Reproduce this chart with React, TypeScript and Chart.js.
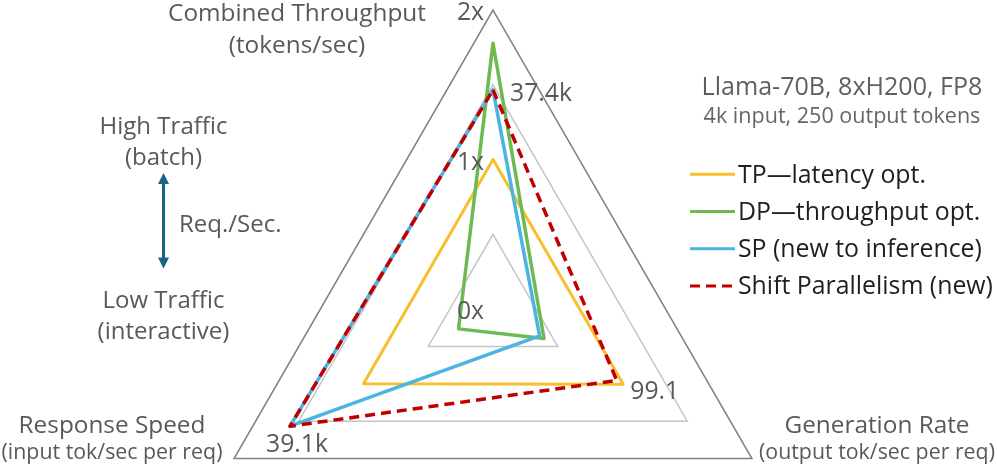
import React, { useEffect, useRef } from 'react';
import { Chart, registerables } from 'chart.js';

Chart.register(...registerables);

// ---- data (each value = fraction of that axis' maximum; throughput 2x = 1.0) ----
const axisNames = ['Combined Throughput', 'Generation Rate', 'Response Speed'];
const axisUnits = ['(tokens/sec)', '(output tok/sec per req)', '(input tok/sec per req)'];
const seriesNames = ['TP—latency opt.', 'DP—throughput opt.', 'SP (new to inference)', 'Shift Parallelism (new)'];
const tpValues = [0.5, 0.503, 0.5];
const dpValues = [0.889, 0.197, 0.133];
const spValues = [0.733, 0.18, 0.784];
const shiftValues = [0.733, 0.478, 0.784];
const throughputTickValues = [0, 0.5, 1];
const throughputTickLabels = ['0x', '1x', '2x'];
const calloutTexts = ['37.4k', '99.1', '39.1k'];
const calloutSeries = [3, 0, 2];
const headerLines = ['Llama-70B, 8xH200, FP8', '4k input, 250 output tokens'];
const trafficLabels = ['High Traffic', '(batch)', 'Req./Sec.', 'Low Traffic', '(interactive)'];

const seriesColors = ['#F7BF2E', '#6DBA55', '#4BB4E1', '#C00000'];
const seriesWidths = [3, 3.5, 3.5, 3.5];
const seriesDash = [[], [], [], [10, 6]];
const seriesOrder = [4, 3, 2, 1];

const FONT = '"Open Sans", sans-serif';
const GRAY = '#595959';

const overlay = {
  id: 'overlay',
  afterDatasetsDraw(chart: any) {
    const ctx = chart.ctx as CanvasRenderingContext2D;
    const r = chart.scales.r;
    ctx.save();
    const fit = (t: string, w: number) => {
      ctx.font = `20px ${FONT}`;
      return (20 * w) / ctx.measureText(t).width;
    };
    const text = (t: string, x: number, y: number, size: number, color: string, align: CanvasTextAlign = 'center') => {
      ctx.font = `${size}px ${FONT}`;
      ctx.fillStyle = color;
      ctx.textAlign = align;
      ctx.textBaseline = 'alphabetic';
      ctx.fillText(t, x, y);
    };

    const titleSize = fit(axisNames[0], 258);
    const unitSize = fit(axisUnits[2], 221);
    const trafficSize = fit(trafficLabels[0], 128);
    const numSize = fit(calloutTexts[0], 62);
    const h1Size = fit(headerLines[0], 281);
    const h2Size = fit(headerLines[1], 277);
    const legendSize = fit(seriesNames[3], 255);

    // throughput tick labels along the top axis
    throughputTickLabels.forEach((t, i) => {
      const p = r.getPointPositionForValue(0, throughputTickValues[i]);
      text(t, p.x - 9, p.y + 10, numSize, GRAY, 'right');
    });

    // callouts at data points
    const dsets = chart.data.datasets;
    const c0 = r.getPointPositionForValue(0, dsets[calloutSeries[0]].data[0]);
    text(calloutTexts[0], c0.x + 17, c0.y + 11, numSize, GRAY, 'left');
    const c1 = r.getPointPositionForValue(1, dsets[calloutSeries[1]].data[1]);
    text(calloutTexts[1], c1.x + 7, c1.y + 15, numSize, GRAY, 'left');
    const c2 = r.getPointPositionForValue(2, dsets[calloutSeries[2]].data[2]);
    text(calloutTexts[2], c2.x + 7, c2.y + 26, numSize, GRAY, 'center');

    // axis titles
    text(axisNames[0], 297, 21, titleSize, GRAY);
    text(axisUnits[0], 297, 53, titleSize, GRAY);
    text(axisNames[1], 877, 433, titleSize, GRAY);
    text(axisUnits[1], 877, 459, unitSize, GRAY);
    text(axisNames[2], 112, 433, titleSize, GRAY);
    text(axisUnits[2], 112, 459, unitSize, GRAY);

    // traffic annotation
    text(trafficLabels[0], 163.5, 134, trafficSize, GRAY);
    text(trafficLabels[1], 163.5, 165, trafficSize, GRAY);
    text(trafficLabels[2], 179, 232, trafficSize, GRAY, 'left');
    text(trafficLabels[3], 163.5, 308, trafficSize, GRAY);
    text(trafficLabels[4], 163.5, 339, trafficSize, GRAY);

    const ax = 163.5;
    ctx.strokeStyle = '#1B6384';
    ctx.fillStyle = '#1B6384';
    ctx.lineWidth = 3;
    ctx.beginPath();
    ctx.moveTo(ax, 182);
    ctx.lineTo(ax, 260);
    ctx.stroke();
    ctx.beginPath();
    ctx.moveTo(ax, 173);
    ctx.lineTo(ax - 5.5, 184);
    ctx.lineTo(ax + 5.5, 184);
    ctx.closePath();
    ctx.fill();
    ctx.beginPath();
    ctx.moveTo(ax, 268.5);
    ctx.lineTo(ax - 5.5, 257.5);
    ctx.lineTo(ax + 5.5, 257.5);
    ctx.closePath();
    ctx.fill();

    // header
    text(headerLines[0], 842, 95, h1Size, '#5f5f5f');
    text(headerLines[1], 842, 123, h2Size, '#666666');

    // legend
    dsets.forEach((ds: any, i: number) => {
      const y = 174.3 + i * 37.2;
      ctx.beginPath();
      ctx.setLineDash(ds.borderDash || []);
      ctx.strokeStyle = ds.borderColor;
      ctx.lineWidth = 3;
      ctx.moveTo(690, y);
      ctx.lineTo(735, y);
      ctx.stroke();
      ctx.setLineDash([]);
      text(ds.label, 738, y + 8.4, legendSize, '#1f1f1f', 'left');
    });
    ctx.restore();
  },
};

export default function App() {
  const ref = useRef<HTMLCanvasElement | null>(null);
  useEffect(() => {
    if (!ref.current) return;
    const values = [tpValues, dpValues, spValues, shiftValues];
    const chart = new Chart(ref.current, {
      type: 'radar',
      data: {
        labels: axisNames,
        datasets: values.map((v, i) => ({
          label: seriesNames[i],
          data: v,
          borderColor: seriesColors[i],
          backgroundColor: 'rgba(0,0,0,0)',
          borderWidth: seriesWidths[i],
          borderDash: seriesDash[i],
          borderJoinStyle: 'round' as const,
          fill: false,
          pointRadius: 0,
          pointHoverRadius: 0,
          tension: 0,
          order: seriesOrder[i],
        })),
      },
      options: {
        responsive: false,
        animation: false,
        layout: { padding: { top: 10, bottom: 11, left: 194, right: 204 } },
        plugins: { legend: { display: false }, tooltip: { enabled: false } },
        scales: {
          r: {
            min: 0,
            max: 1,
            ticks: { display: false, stepSize: 0.25 },
            pointLabels: { display: false },
            angleLines: { display: false },
            grid: {
              lineWidth: 1.5,
              color: (c: any) => {
                const v = c.tick ? c.tick.value : 0;
                if (v === 0.5) return 'rgba(0,0,0,0)';
                if (v === 1) return '#808080';
                return '#C4C4C4';
              },
            },
          },
        },
      },
      plugins: [overlay],
    });
    return () => chart.destroy();
  }, []);
  return (
    <div style={{ position: 'absolute', left: 0, top: 0, width: 997, height: 468, overflow: 'hidden', background: '#fff' }}>
      <canvas ref={ref} width={997} height={620} style={{ display: 'block', width: 997, height: 620 }} />
    </div>
  );
}
